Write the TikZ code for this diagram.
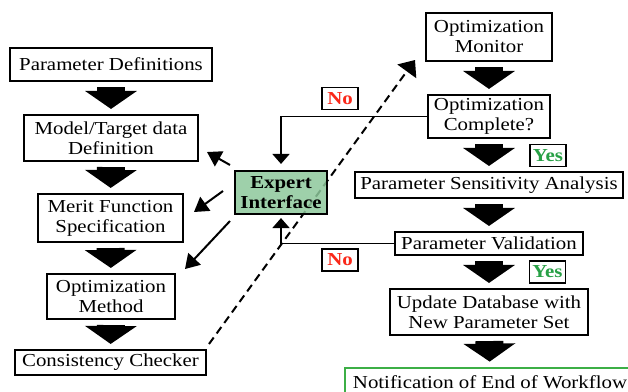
\documentclass[tikz,border=0pt]{standalone}
\usepackage{fontspec}
\setmainfont{Liberation Serif}[FakeStretch=1.14]
\usetikzlibrary{arrows.meta}

\definecolor{eigreen}{RGB}{141,200,155}
\definecolor{nored}{RGB}{250,40,25}
\definecolor{yesgreen}{RGB}{40,160,70}
\definecolor{endgreen}{RGB}{60,175,70}

\begin{document}
\begin{tikzpicture}[x=1pt,y=-1pt,
  flowbox/.style={draw, line width=2.1pt, inner sep=0pt, align=center,
    font=\fontsize{18.3}{20}\selectfont},
  answer/.style={draw, line width=1.8pt, inner sep=0pt, minimum width=36pt,
    minimum height=22pt, font=\fontsize{18.3}{20}\selectfont\bfseries},
  blockarr/.style={line width=28pt, -{Triangle[width=51pt,length=18pt]},
    shorten <=5pt, shorten >=5pt},
  loopline/.style={line width=1.8pt, -{Triangle[width=17pt,length=10pt]}},
  hintarrow/.style={line width=2pt, -{Triangle[width=17pt,length=14pt]}},
]
\useasboundingbox (0,0) rectangle (628,391);
\clip (0,0) rectangle (628,391);

% left column: setup chain
\node[flowbox, minimum width=202pt, minimum height=33pt] (pdef) at (111,64.5) {Parameter Definitions};
\node[flowbox, minimum width=174pt, minimum height=46pt] (model) at (111,138) {Model/Target data\\Definition};
\node[flowbox, minimum width=145pt, minimum height=48pt] (merit) at (110.5,218) {Merit Function\\Specification};
\node[flowbox, minimum width=128pt, minimum height=45pt] (optm) at (111,296.5) {Optimization\\Method};
\node[flowbox, minimum width=191pt, minimum height=25pt] (cons) at (110.5,362.5) {Consistency Checker};

% right column: run and validation chain
\node[flowbox, minimum width=126pt, minimum height=48pt] (omon) at (489,37) {Optimization\\Monitor};
\node[flowbox, minimum width=122pt, minimum height=43pt] (ocomp) at (489,116.5) {Optimization\\Complete?};
\node[flowbox, minimum width=268pt, minimum height=26pt] (psa) at (489,185) {Parameter Sensitivity Analysis};
\node[flowbox, minimum width=188pt, minimum height=23pt] (pval) at (489,243.5) {Parameter Validation};
\node[flowbox, minimum width=198pt, minimum height=46pt] (udb) at (489,312) {Update Database with\\New Parameter Set};
\node[flowbox, draw=endgreen, line width=2.8pt, minimum width=290pt, minimum height=28pt] (notif) at (490,382) {Notification of End of Workflow};

% decision labels
\node[answer, text=nored] (no1) at (340,98.5) {No};
\node[answer, text=nored] (no2) at (340,260) {No};
\node[answer, text=yesgreen] (yes1) at (548,155.5) {Yes};
\node[answer, text=yesgreen] (yes2) at (547.5,272) {Yes};

% block arrows
\draw[blockarr] (pdef) -- (model);
\draw[blockarr] (model) -- (merit);
\draw[blockarr] (merit) -- (optm);
\draw[blockarr] (optm) -- (cons);
\draw[blockarr] (omon) -- (ocomp);
\draw[blockarr] (ocomp) -- (psa);
\draw[blockarr] (psa) -- (pval);
\draw[blockarr] (pval) -- (udb);
\draw[blockarr] (udb) -- (notif);

% dashed hand-over from the checker to the monitor
\coordinate (dstart) at (209,344);
\coordinate (dend) at (415,60);
\draw[line width=2pt, dash pattern=on 8pt off 5pt,
  -{Triangle[width=23pt,length=14pt]}] (dstart) -- (dend);

% expert interface
\node[flowbox, fill=eigreen, fill opacity=0.85, text opacity=1,
  font=\fontsize{18.3}{20}\selectfont\bfseries,
  minimum width=92pt, minimum height=43pt] (ei) at (281,192.5) {Expert\\Interface};

% feedback loops into the expert interface
\draw[loopline, shorten >=6pt] (ocomp.west) -| (ei.north);
\draw[loopline, shorten >=3pt] (pval.west) -| (ei.south);

% expert interface acting on the setup steps
\coordinate (h1s) at (230,165);
\coordinate (h1e) at (207,152);
\coordinate (h2s) at (223,191);
\coordinate (h2e) at (194,212);
\coordinate (h3s) at (230,221);
\coordinate (h3e) at (185,269);
\draw[hintarrow] (h1s) -- (h1e);
\draw[hintarrow] (h2s) -- (h2e);
\draw[hintarrow] (h3s) -- (h3e);
\end{tikzpicture}
\end{document}
